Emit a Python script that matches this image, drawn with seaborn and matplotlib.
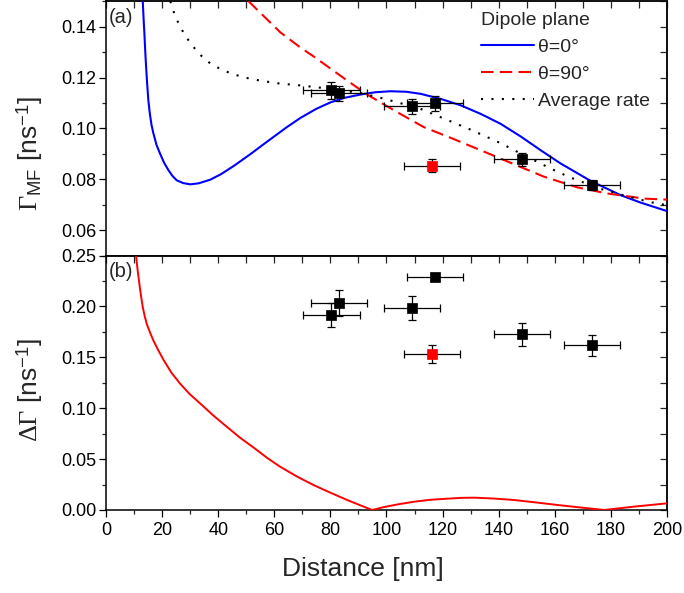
import numpy as np
import pandas as pd
import matplotlib
matplotlib.use("Agg")
import matplotlib.pyplot as plt
from matplotlib.ticker import MultipleLocator, FormatStrFormatter, FixedLocator
from matplotlib.lines import Line2D
import seaborn as sns

# ---------------- data ----------------
theta0_x = [13.1, 13.4, 13.7, 14.0, 14.3, 14.7, 15.1, 15.6, 16.2, 16.9, 18.0, 19.3, 20.7,
            22.3, 23.7, 25.2, 27.5, 30.0, 33.0, 37.1, 41.0, 45.5, 51.4, 55.5, 59.8, 64.5,
            69.3, 75.0, 80.0, 85.0, 90.7, 96.0, 101.4, 107.0, 112.1, 119.3, 126.4, 133.6,
            140.7, 147.9, 155.0, 162.1, 172.9, 183.6, 190.7, 200.0]
theta0_y = [0.150, 0.143, 0.137, 0.130, 0.124, 0.117, 0.111, 0.106, 0.1015, 0.098, 0.0935,
            0.090, 0.0865, 0.0835, 0.0813, 0.0796, 0.0785, 0.0780, 0.0784, 0.0798, 0.0820,
            0.0852, 0.0898, 0.0932, 0.0967, 0.1005, 0.1041, 0.1077, 0.1102, 0.1120, 0.1133,
            0.1142, 0.1146, 0.1144, 0.1136, 0.1116, 0.1091, 0.1057, 0.1018, 0.0968, 0.0914,
            0.0862, 0.0793, 0.0737, 0.0708, 0.0675]

theta90_x = [50.8, 62.1, 69.3, 74.0, 86.0, 93.1, 103.8, 113.3, 124.0, 136.0, 147.9, 156.2,
             168.1, 178.8, 191.9, 200.0]
theta90_y = [0.150, 0.1378, 0.1318, 0.1283, 0.1188, 0.1133, 0.1064, 0.1005, 0.0958, 0.0903,
             0.0848, 0.0810, 0.0768, 0.0744, 0.0724, 0.0720]

avg_x = [22.9, 24.6, 26.3, 28.2, 30.8, 33.6, 37.1, 40.5, 44.3, 47.8, 51.4, 56.5, 62.1, 69.3,
         76.4, 90.7, 97.9, 105.0, 112.1, 119.3, 130.0, 140.7, 147.9, 158.0, 165.1, 175.8,
         186.5, 193.7, 200.0]
avg_y = [0.150, 0.1443, 0.1403, 0.1365, 0.1325, 0.1289, 0.1256, 0.1235, 0.1217, 0.1205,
         0.1195, 0.1185, 0.1176, 0.1169, 0.1160, 0.1139, 0.1120, 0.1099, 0.1077, 0.1044,
         0.0995, 0.0942, 0.0901, 0.0845, 0.0809, 0.0764, 0.0731, 0.0711, 0.0698]

dgamma_x = [10.7, 11.3, 11.9, 12.5, 13.1, 13.8, 14.5, 15.6, 16.9, 18.6, 20.5, 23.3, 26.4,
            29.8, 33.6, 38.2, 43.1, 47.8, 52.6, 57.3, 62.1, 68.0, 74.0, 80.0, 86.0, 90.5,
            94.9, 99.0, 104.0, 109.8, 115.5, 121.7, 126.5, 131.2, 138.0, 145.5, 153.0,
            161.0, 169.0, 177.6, 188.3, 200.0]
dgamma_y = [0.250, 0.235, 0.222, 0.210, 0.1993, 0.1905, 0.1830, 0.1750, 0.1665, 0.1572,
            0.1475, 0.135, 0.1242, 0.114, 0.1046, 0.093, 0.0817, 0.071, 0.0614, 0.0515,
            0.0425, 0.033, 0.0245, 0.017, 0.0098, 0.0048, 0.0, 0.0028, 0.0055, 0.0081,
            0.0100, 0.0111, 0.0119, 0.0121, 0.0113, 0.0098, 0.0075, 0.0049, 0.0025, 0.0,
            0.0033, 0.0065]

pts_x = [80.4, 83.2, 109.2, 117.3, 148.2, 173.4]
pts_xerr = [10, 10, 10, 10, 10, 10]
gmf_y = [0.1149, 0.1138, 0.1087, 0.1099, 0.0878, 0.0776]
gmf_yerr = [0.0035, 0.0030, 0.0030, 0.0030, 0.0026, 0.0020]
dg_y = [0.1915, 0.2036, 0.1987, 0.2294, 0.1725, 0.1618]
dg_yerr = [0.012, 0.013, 0.012, 0.002, 0.011, 0.010]

red_x = [116.2]
red_xerr = [10]
red_gmf_y = [0.0854]
red_gmf_yerr = [0.0025]
red_dg_y = [0.1536]
red_dg_yerr = [0.009]

legend_title = "Dipole plane"
labels = ["θ=0°", "θ=90°", "Average rate"]

# ---------------- style ----------------
sns.set_theme(style="ticks")
plt.rcParams["font.family"] = ["Liberation Sans", "DejaVu Sans"]
plt.rcParams["mathtext.fontset"] = "custom"
plt.rcParams["mathtext.rm"] = "Liberation Serif"
plt.rcParams["mathtext.it"] = "Liberation Serif:italic"
plt.rcParams["mathtext.bf"] = "Liberation Serif:bold"
plt.rcParams["mathtext.sf"] = "Liberation Sans"
plt.rcParams["axes.linewidth"] = 1.1

fig, (ax1, ax2) = plt.subplots(2, 1, sharex=True, figsize=(6.84, 5.93), dpi=100)
fig.subplots_adjust(left=0.155, right=0.975, top=0.998, bottom=0.14, hspace=0)

BLUE = "#0000ff"
RED = "#ff0000"

df0 = pd.DataFrame({"x": theta0_x, "y": theta0_y})
df90 = pd.DataFrame({"x": theta90_x, "y": theta90_y})
dfa = pd.DataFrame({"x": avg_x, "y": avg_y})
dfd = pd.DataFrame({"x": dgamma_x, "y": dgamma_y})

sns.lineplot(data=df0, x="x", y="y", ax=ax1, color=BLUE, lw=1.5, sort=False, zorder=3)
sns.lineplot(data=df90, x="x", y="y", ax=ax1, color=RED, lw=1.5, sort=False, zorder=3,
             linestyle=(0, (6, 3)))
sns.lineplot(data=dfa, x="x", y="y", ax=ax1, color="black", lw=1.5, sort=False, zorder=3,
             linestyle=(0, (1, 4)))
sns.lineplot(data=dfd, x="x", y="y", ax=ax2, color=RED, lw=1.4, sort=False, zorder=3)

def points(ax, x, xe, y, ye, color):
    ax.errorbar(x, y, xerr=xe, yerr=ye, fmt="none", ecolor="black", elinewidth=0.9,
                capsize=3, capthick=0.9, zorder=4)
    sns.scatterplot(x=x, y=y, ax=ax, marker="s", s=48, color=color, edgecolor=color,
                    linewidth=0.5, zorder=5, legend=False)

points(ax1, pts_x, pts_xerr, gmf_y, gmf_yerr, "black")
points(ax1, red_x, red_xerr, red_gmf_y, red_gmf_yerr, RED)
points(ax2, pts_x, pts_xerr, dg_y, dg_yerr, "black")
points(ax2, red_x, red_xerr, red_dg_y, red_dg_yerr, RED)

# ---------------- axes ----------------
ax1.set_xlim(0, 200)
ax1.set_ylim(0.05, 0.15)
ax2.set_ylim(0.0, 0.25)

ax1.yaxis.set_major_locator(FixedLocator([0.06, 0.08, 0.10, 0.12, 0.14]))
ax1.yaxis.set_minor_locator(MultipleLocator(0.01))
ax2.yaxis.set_major_locator(MultipleLocator(0.05))
ax2.yaxis.set_minor_locator(MultipleLocator(0.025))
ax2.xaxis.set_major_locator(MultipleLocator(20))
ax2.xaxis.set_minor_locator(MultipleLocator(10))
for ax in (ax1, ax2):
    ax.yaxis.set_major_formatter(FormatStrFormatter("%.2f"))

tick_kw = dict(width=0.9, labelsize=13, colors="black")
for ax in (ax1, ax2):
    for s in ax.spines.values():
        s.set_visible(True)
        s.set_linewidth(1.1)
        s.set_color("black")
    ax.tick_params(axis="y", which="major", direction="out", length=5, pad=2,
                   left=True, right=False, **tick_kw)
    ax.tick_params(axis="y", which="minor", direction="out", length=3,
                   left=True, right=False, width=0.9)
    ax.tick_params(axis="x", which="major", direction="out", length=5, pad=4,
                   top=False, **tick_kw)
    ax.tick_params(axis="x", which="minor", direction="out", length=3, top=False, width=0.9)

    sy = ax.secondary_yaxis("right")
    sy.yaxis.set_major_locator(ax.yaxis.get_major_locator())
    sy.yaxis.set_minor_locator(ax.yaxis.get_minor_locator())
    sy.tick_params(which="both", direction="in", length=5, width=0.9, labelright=False)
    sy.spines["right"].set_linewidth(1.1)
    sx = ax.secondary_xaxis("top")
    sx.xaxis.set_major_locator(MultipleLocator(20))
    sx.xaxis.set_minor_locator(MultipleLocator(10))
    sx.tick_params(which="both", direction="in", length=5, width=0.9, labeltop=False)
    sx.spines["top"].set_linewidth(1.1)

ax1.tick_params(axis="x", which="both", bottom=False, labelbottom=False)

ax1.set_xlabel("")
ax1.set_ylabel(r"$\Gamma_{\mathsf{MF}}$ [ns$^{\mathsf{-1}}$]", fontsize=19)
ax2.set_ylabel(r"$\Delta\Gamma$ [ns$^{\mathsf{-1}}$]", fontsize=19)
ax2.set_xlabel("Distance [nm]", fontsize=19)
ax1.yaxis.set_label_coords(-0.108, 0.40)
ax2.yaxis.set_label_coords(-0.108, 0.47)
ax2.xaxis.set_label_coords(0.458, -0.185)

ax1.text(0.004, 0.975, "(a)", transform=ax1.transAxes, ha="left", va="top", fontsize=14.5)
ax2.text(0.004, 0.975, "(b)", transform=ax2.transAxes, ha="left", va="top", fontsize=14.5)

handles = [Line2D([], [], color=BLUE, lw=1.5),
           Line2D([], [], color=RED, lw=1.5, linestyle=(0, (6, 3))),
           Line2D([], [], color="black", lw=1.5, linestyle=(0, (1, 4)))]
leg = ax1.legend(handles, labels, title=legend_title, loc="upper left",
                 bbox_to_anchor=(0.662, 0.972), frameon=False, fontsize=14,
                 title_fontsize=14, handlelength=2.7, handletextpad=0.2,
                 labelspacing=0.48, borderpad=0.2, borderaxespad=0.0, alignment="left")

fig.savefig("out.png", dpi=100)
